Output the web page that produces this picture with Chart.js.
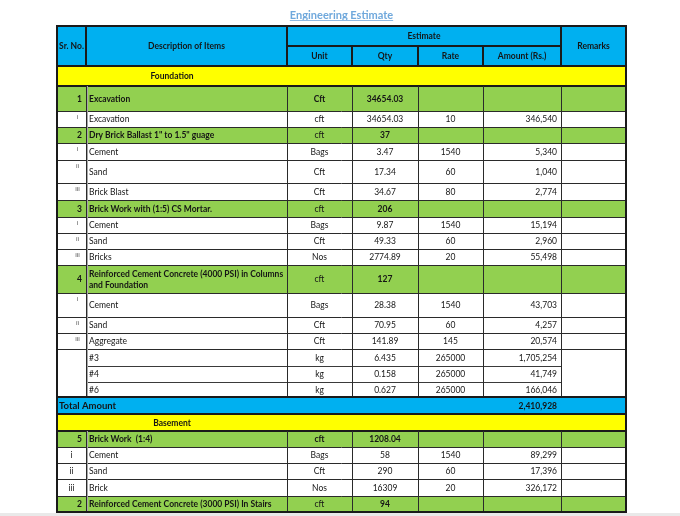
<!DOCTYPE html>
<html>
<head>
<meta charset="utf-8">
<title>Engineering Estimate</title>
<script src="https://cdn.jsdelivr.net/npm/chart.js@4"></script>
<style>
  html, body { margin: 0; padding: 0; background: #ffffff; }
  #estimateChart { display: block; }
</style>
</head>
<body>
<canvas id="estimateChart" width="680" height="516"></canvas>
<script>
// Table content, one entry per body row
const chartTitle = 'Engineering Estimate';
const headerTop = ['Sr. No.', 'Description of Items', 'Estimate', 'Remarks'];
const headerSub = ['Unit', 'Qty', 'Rate', 'Amount (Rs.)'];

const rowKinds = ['section', 'item', 'sub', 'item', 'sub', 'sub', 'sub', 'item', 'sub', 'sub', 'sub',
    'item', 'sub', 'sub', 'sub', 'steel', 'steel', 'steel', 'total', 'section', 'item', 'sub', 'sub', 'sub', 'item'];
const srNo = ['', '1', 'i', '2', 'i', 'ii', 'iii', '3', 'i', 'ii', 'iii',
    '4', 'i', 'ii', 'iii', '', '', '', '', '', '5', 'i', 'ii', 'iii', '2'];
const descriptions = ['Foundation', 'Excavation', 'Excavation', 'Dry Brick Ballast 1" to 1.5" guage',
    'Cement', 'Sand', 'Brick Blast', 'Brick Work with (1:5) CS Mortar.', 'Cement', 'Sand', 'Bricks',
    'Reinforced Cement Concrete (4000 PSI) in Columns\nand Foundation', 'Cement', 'Sand', 'Aggregate',
    '#3', '#4', '#6', 'Total Amount', 'Basement', 'Brick Work  (1:4)', 'Cement', 'Sand', 'Brick',
    'Reinforced Cement Concrete (3000 PSI) In Stairs'];
const units = ['', 'Cft', 'cft', 'cft', 'Bags', 'Cft', 'Cft', 'cft', 'Bags', 'Cft', 'Nos',
    'cft', 'Bags', 'Cft', 'Cft', 'kg', 'kg', 'kg', '', '', 'cft', 'Bags', 'Cft', 'Nos', 'cft'];
const qty = ['', '34654.03', '34654.03', '37', '3.47', '17.34', '34.67', '206', '9.87', '49.33', '2774.89',
    '127', '28.38', '70.95', '141.89', '6.435', '0.158', '0.627', '', '', '1208.04', '58', '290', '16309', '94'];
const rates = ['', '', '10', '', '1540', '60', '80', '', '1540', '60', '20',
    '', '1540', '60', '145', '265000', '265000', '265000', '', '', '', '1540', '60', '20', ''];
const amounts = ['', '', '346,540', '', '5,340', '1,040', '2,774', '', '15,194', '2,960', '55,498',
    '', '43,703', '4,257', '20,574', '1,705,254', '41,749', '166,046', '2,410,928', '', '', '89,299', '17,396', '326,172', ''];
const boldUnitRows = [1, 20];

// Layout (scale units)
const colWidths = [29, 201, 65, 66, 65, 78, 65];
const headerHeights = [20, 20];
const rowHeights = [20, 25, 16, 16, 17, 23, 17, 17, 16, 16, 16, 28, 24, 16, 16, 17, 16, 15, 17, 17, 16, 16, 16, 17, 16];

const colEdges = colWidths.reduce((acc, w) => { acc.push(acc[acc.length - 1] + w); return acc; }, [0]);
const rowEdges = headerHeights.concat(rowHeights).reduce((acc, h) => { acc.push(acc[acc.length - 1] + h); return acc; }, [0]);

const FONT = 'Lato, "Open Sans", sans-serif';
const SIZE = 8.5;
const colors = {
    header: '#00b0f0',
    section: '#ffff00',
    item: '#92d050',
    sub: '#ffffff',
    steel: '#ffffff',
    total: '#00b0f0',
    line: '#1a1a1a',
    text: '#151515'
};

function drawText(ctx, str, x, y, align, size, bold, color) {
    ctx.font = (bold ? 'bold ' : '') + size + 'px ' + FONT;
    ctx.fillStyle = color || colors.text;
    ctx.textAlign = align;
    ctx.textBaseline = 'middle';
    ctx.fillText(str, x, y);
}

function hLine(ctx, x1, x2, yy, width, color) {
    ctx.beginPath();
    ctx.lineWidth = width;
    ctx.strokeStyle = color || colors.line;
    const off = width % 2 ? 0.5 : 0;
    ctx.moveTo(x1, yy + off);
    ctx.lineTo(x2, yy + off);
    ctx.stroke();
}

function vLine(ctx, xx, y1, y2, width, color) {
    ctx.beginPath();
    ctx.lineWidth = width;
    ctx.strokeStyle = color || colors.line;
    const off = width % 2 ? 0.5 : 0;
    ctx.moveTo(xx + off, y1);
    ctx.lineTo(xx + off, y2);
    ctx.stroke();
}

const tablePlugin = {
    id: 'estimateTable',
    afterDraw(chart) {
        const { ctx, scales: { x, y } } = chart;
        const px = i => Math.round(x.getPixelForValue(colEdges[i]));
        const py = j => Math.round(y.getPixelForValue(rowEdges[j]));
        const left = px(0), right = px(colEdges.length - 1);
        const nHead = headerHeights.length;
        const bottom = py(rowEdges.length - 1);
        ctx.save();

        // title
        const cx = (left + right) / 2;
        drawText(ctx, chartTitle, cx, 15, 'center', 11, true, '#6fa8dc');
        ctx.font = 'bold 11px ' + FONT;
        const tw = ctx.measureText(chartTitle).width;
        hLine(ctx, cx - tw / 2, cx + tw / 2, 20, 1, '#8fbbe6');

        // header fill
        ctx.fillStyle = colors.header;
        ctx.fillRect(left, py(0), right - left, py(nHead) - py(0));

        // body fills
        rowKinds.forEach((kind, r) => {
            ctx.fillStyle = colors[kind];
            ctx.fillRect(left, py(nHead + r), right - left, py(nHead + r + 1) - py(nHead + r));
        });

        // header lines
        hLine(ctx, px(2), px(6), py(1), 2);
        [1, 2, 6].forEach(c => vLine(ctx, px(c), py(0), py(2), 2));
        [3, 4, 5].forEach(c => vLine(ctx, px(c), py(1), py(2), 2));
        hLine(ctx, left, right, py(2), 2);

        // body lines
        rowKinds.forEach((kind, r) => {
            const top = py(nHead + r), bot = py(nHead + r + 1);
            const next = rowKinds[r + 1];
            if (kind !== 'section' && kind !== 'total') {
                vLine(ctx, px(1), top, bot, 1, '#2a2a2a');
                vLine(ctx, px(1) + 1, top, bot, 1, '#a8a8a8');
                [2, 3, 4, 5, 6].forEach(c => vLine(ctx, px(c), top, bot, 1, '#2a2a2a'));
            }
            if (kind === 'section' || kind === 'total' || next === 'section' || next === 'total') {
                hLine(ctx, left, right, bot, 2);
            } else if (kind === 'steel' && next === 'steel') {
                hLine(ctx, px(1), px(6), bot, 1, '#3a3a3a');
            } else if (next !== undefined) {
                hLine(ctx, left, right, bot, 1, '#2a2a2a');
            }
        });

        // outer border
        ctx.lineWidth = 2;
        ctx.strokeStyle = colors.line;
        ctx.strokeRect(left, py(0), right - left, bottom - py(0));

        // header text
        const hMid = (py(0) + py(2)) / 2;
        drawText(ctx, headerTop[0], (px(0) + px(1)) / 2, hMid, 'center', SIZE, true);
        drawText(ctx, headerTop[1], (px(1) + px(2)) / 2, hMid, 'center', SIZE, true);
        drawText(ctx, headerTop[2], (px(2) + px(6)) / 2, (py(0) + py(1)) / 2, 'center', SIZE, true);
        drawText(ctx, headerTop[3], (px(6) + px(7)) / 2, hMid, 'center', SIZE, true);
        headerSub.forEach((t, i) => {
            drawText(ctx, t, (px(2 + i) + px(3 + i)) / 2, (py(1) + py(2)) / 2, 'center', SIZE, true);
        });

        // body text
        const totalIndex = rowKinds.indexOf('total');
        rowKinds.forEach((kind, r) => {
            const top = py(nHead + r), bot = py(nHead + r + 1);
            const mid = (top + bot) / 2 + 0.5;
            if (kind === 'section') {
                drawText(ctx, descriptions[r], (px(0) + px(2)) / 2, mid, 'center', SIZE, true);
                return;
            }
            if (kind === 'total') {
                drawText(ctx, descriptions[r], left + 2, mid, 'left', 9.5, true);
                drawText(ctx, amounts[r], px(6) - 4, mid, 'right', SIZE, true);
                return;
            }
            const isItem = kind === 'item';
            if (isItem) {
                drawText(ctx, srNo[r], px(1) - 4, mid, 'right', SIZE, true);
            } else if (srNo[r]) {
                if (r < totalIndex) {
                    drawText(ctx, srNo[r], (px(0) + px(1)) / 2 + 6, top + 6, 'center', 6.5, false, '#555');
                } else {
                    drawText(ctx, srNo[r], (px(0) + px(1)) / 2, mid, 'center', SIZE, false);
                }
            }
            const lines = descriptions[r].split('\n');
            lines.forEach((ln, k) => {
                drawText(ctx, ln, px(1) + 3, mid + (k - (lines.length - 1) / 2) * 11, 'left', SIZE, isItem);
            });
            drawText(ctx, units[r], (px(2) + px(3)) / 2, mid, 'center', SIZE, boldUnitRows.includes(r));
            drawText(ctx, qty[r], (px(3) + px(4)) / 2, mid, 'center', SIZE, isItem);
            drawText(ctx, rates[r], (px(4) + px(5)) / 2, mid, 'center', SIZE, false);
            drawText(ctx, amounts[r], px(6) - 4, mid, 'right', SIZE, false);
        });

        // page edge strip below the table
        ctx.fillStyle = '#e9e9e9';
        ctx.fillRect(0, bottom + 1, chart.width, chart.height - bottom);
        hLine(ctx, left, right, bottom, 2);
        ctx.restore();
    }
};

const ctx = document.getElementById('estimateChart');
new Chart(ctx, {
    type: 'scatter',
    data: { datasets: [] },
    options: {
        responsive: false,
        animation: false,
        layout: { padding: { left: 57, right: 54, top: 26, bottom: 0 } },
        plugins: {
            legend: { display: false },
            tooltip: { enabled: false }
        },
        scales: {
            x: { type: 'linear', display: false, min: 0, max: colEdges[colEdges.length - 1] },
            y: { type: 'linear', display: false, reverse: true, min: 0, max: 490 }
        }
    },
    plugins: [tablePlugin]
});
</script>
</body>
</html>
